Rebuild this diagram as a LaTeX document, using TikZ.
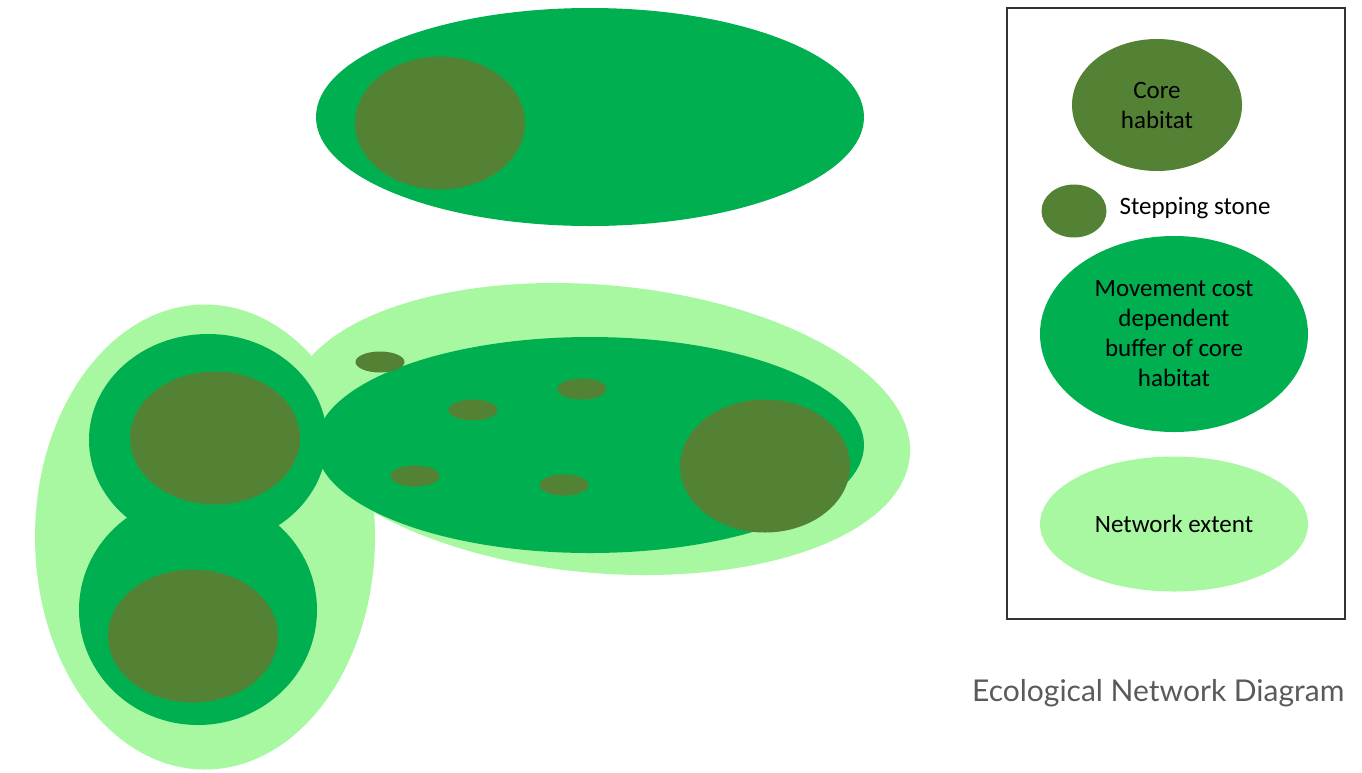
\documentclass[tikz,border=0pt]{standalone}
\usepackage{fontspec}
\setmainfont{Carlito}
\newfontfamily\captionfont{Lato}
\usetikzlibrary{shapes.geometric}
\definecolor{coregreen}{HTML}{548235}
\definecolor{buffergreen}{HTML}{00B050}
\definecolor{extentgreen}{HTML}{A8F8A1}
\definecolor{captiongray}{HTML}{5A5A5A}

\begin{document}
\begin{tikzpicture}[x=1pt, y=-1pt,
	extent/.style={ ellipse, fill=extentgreen, inner sep=0pt },
	buffer/.style={ ellipse, fill=buffergreen, inner sep=0pt },
	core/.style={ ellipse, fill=coregreen, inner sep=0pt, minimum width=170pt, minimum height=133pt },
	stone/.style={ ellipse, fill=coregreen, inner sep=0pt, minimum width=49pt, minimum height=21pt },
	legendtext/.style={ font=\fontsize{25}{30}\selectfont, align=center, text=black }
]
\useasboundingbox (0,0) rectangle (1362,772);

% network extent
\node at (205,537) (extL) [extent, minimum width=340pt, minimum height=465pt] {};
\node at (600,429) (extR) [extent, rotate=-5, minimum width=622pt, minimum height=288pt] {};

% movement cost buffers
\node at (590,117) (bufTop) [buffer, minimum width=548pt, minimum height=218pt] {};
\node at (590,445) (bufR) [buffer, minimum width=548pt, minimum height=216pt] {};
\node at (208,440) (bufLa) [buffer, minimum width=238pt, minimum height=212pt] {};
\node at (198,610) (bufLb) [buffer, minimum width=238pt, minimum height=230pt] {};

% core habitat
\node at (440,123) (coreTop) [core] {};
\node at (765,466) (coreR) [core] {};
\node at (215,438) (coreLa) [core] {};
\node at (193,636) (coreLb) [core] {};

% stepping stones
\node at (380,362) (s1) [stone] {};
\node at (473,410) (s2) [stone] {};
\node at (582,389) (s3) [stone] {};
\node at (415,476) (s4) [stone] {};
\node at (564,485) (s5) [stone] {};

% legend
\node at (1176,313.5) (legend) [draw=black!80, line width=1.2pt, minimum width=338pt, minimum height=611pt] {};
\node at (1157,105) (keyCore) [core, minimum height=132pt, legendtext] {Core\\habitat};
\node at (1074,211) (keyStone) [stone, minimum width=65pt, minimum height=53pt] {};
\node at (1116,208) (keyStoneTxt) [anchor=west, legendtext] {Stepping stone};
\node at (1174,334) (keyBuf) [buffer, minimum width=268pt, minimum height=196pt, legendtext] {Movement cost\\dependent\\buffer of core\\habitat};
\node at (1174,524) (keyExt) [extent, minimum width=268pt, minimum height=135pt, legendtext] {Network extent};

\node at (972,693) (caption) [anchor=west, inner sep=0pt, text=captiongray, font=\captionfont\fontsize{30}{36}\selectfont] {Ecological Network Diagram};

\end{tikzpicture}
\end{document}
